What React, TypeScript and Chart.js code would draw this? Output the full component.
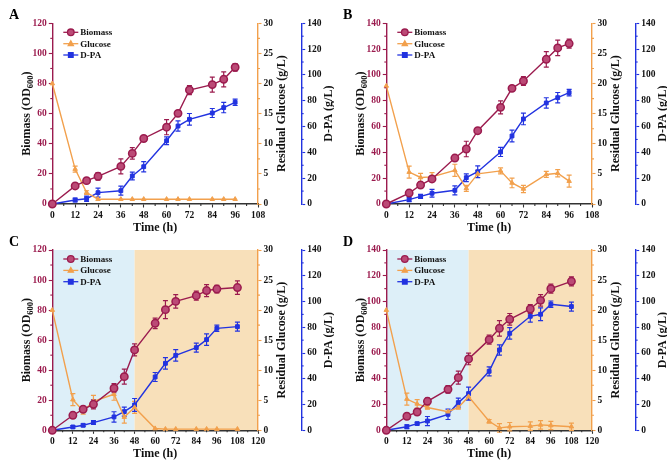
import React, { useEffect, useRef } from 'react';
import { Chart, registerables } from 'chart.js';

Chart.register(...registerables);

const FONT = "'Liberation Serif', 'Times New Roman', serif";
const MAROON = '#9b1b4e';
const MAROON_FILL = '#bb4a76';
const ORANGE = '#f2a04c';
const BLUE = '#2233e0';
const SHADE_1 = '#ddeff8';
const SHADE_2 = '#f8e0ba';

// ---- data ----
const timeAB = [0, 12, 18, 24, 36, 42, 48, 60, 66, 72, 84, 90, 96];
const timeCD = [0, 12, 18, 24, 36, 42, 48, 60, 66, 72, 84, 90, 96, 108];
const phaseSwitch = 48;

const biomassA = [0, 12.0, 15.5, 18.4, 25.0, 33.6, 43.5, 51.0, 60.2, 75.7, 79.3, 82.8, 90.8];
const biomassErrA = [0, 1.0, 1.2, 2.5, 5.0, 3.8, 2.0, 5.0, 1.8, 3.0, 5.0, 5.0, 2.5];
const glucoseA = [20.0, 5.8, 1.9, 0.8, 0.8, 0.8, 0.8, 0.8, 0.8, 0.8, 0.8, 0.8, 0.8];
const glucoseErrA = [0, 0.5, 0.3, 0, 0, 0, 0, 0, 0, 0, 0, 0, 0];
const dpaA = [0, 3.1, 4.1, 8.8, 10.3, 21.7, 28.9, 49.0, 60.4, 65.6, 70.5, 74.7, 78.8];
const dpaErrA = [0, 1.5, 2, 3.5, 3.5, 3, 4, 3, 4, 4.5, 3.5, 4, 2.5];

const biomassB = [0, 8.5, 14.7, 19.4, 35.6, 42.6, 56.8, 74.9, 89.6, 95.3, 112.1, 120.9, 124.3];
const biomassErrB = [0, 2, 1, 2, 2, 6, 2, 5, 1.5, 3.5, 6, 6, 3.5];
const glucoseB = [19.6, 5.3, 4.4, 4.5, 5.6, 2.6, 5.0, 5.5, 3.5, 2.5, 4.9, 5.1, 3.8];
const glucoseErrB = [0, 1.0, 0.7, 0.7, 1.0, 0.5, 0.6, 0.5, 0.8, 0.6, 0.5, 0.6, 1.0];
const dpaB = [0, 3.4, 5.9, 8.3, 10.6, 20.4, 25.0, 40.3, 52.7, 65.9, 78.3, 82.4, 86.3];
const dpaErrB = [0, 1.5, 1.5, 3, 3.5, 3, 4.5, 3.5, 4.5, 4.5, 4, 4, 2.5];

const biomassC = [0, 10.0, 14.0, 17.3, 28.0, 35.7, 53.5, 71.2, 80.3, 85.8, 89.6, 93.0, 94.0, 95.0];
const biomassErrC = [0, 2, 1, 3, 3, 5, 4, 3.5, 6, 4.5, 3, 4, 2.5, 4.5];
const glucoseC = [20.0, 5.1, 3.2, 4.8, 6.0, 2.2, 3.8, 0.3, 0.2, 0.2, 0.2, 0.2, 0.2, 0.2];
const glucoseErrC = [0, 1, 0.5, 1, 1, 1, 1, 0, 0, 0, 0, 0, 0, 0];
const dpaC = [0, 2.6, 3.9, 6.0, 10.4, 14.5, 19.7, 41.4, 52.0, 58.2, 64.2, 70.4, 79.2, 80.5];
const dpaErrC = [0, 1, 1, 1.5, 4, 3.5, 5, 3.5, 4.5, 4.5, 3.5, 4.5, 2.5, 3.5];

const biomassD = [0, 10.9, 14.2, 22.5, 31.8, 40.9, 55.4, 70.4, 79.2, 86.2, 94.2, 100.9, 110.0, 115.7];
const biomassErrD = [0, 2, 2, 2.5, 3, 5, 4.5, 3.5, 6, 4.5, 3.5, 4.5, 3.5, 3.5];
const glucoseD = [20.0, 5.2, 4.4, 3.8, 3.1, 3.8, 5.6, 1.5, 0.4, 0.6, 0.7, 0.9, 0.8, 0.6];
const glucoseErrD = [0, 1, 0.7, 0.3, 0, 0.3, 0.5, 0.3, 0.7, 0.7, 0.7, 0.7, 0.7, 0.6];
const dpaD = [0, 2.8, 5.2, 7.2, 12.4, 21.5, 28.5, 45.8, 62.4, 75.3, 88.5, 90.1, 97.9, 96.1];
const dpaErrD = [0, 1.5, 1, 3.5, 4, 3.5, 5, 3.5, 4, 4.5, 4.5, 5, 2.5, 3.5];

const seriesNames = ['Biomass', 'Glucose', 'D-PA'];
const xTitle = 'Time (h)';
const glucoseTitle = 'Residual Glucose (g/L)';
const dpaTitle = 'D-PA (g/L)';

type PanelDef = {
  letter: string; left: number; top: number; width: number; height: number;
  padTop: number; xAxisH: number; time: number[]; xMax: number; bioMax: number;
  bio: number[]; bioErr: number[]; glu: number[]; gluErr: number[]; dpa: number[]; dpaErr: number[];
  shaded: boolean;
};

const panels: PanelDef[] = [
  { letter: 'A', left: 0, top: 0, width: 334, height: 236, padTop: 23.3, xAxisH: 32, time: timeAB, xMax: 108, bioMax: 120,
    bio: biomassA, bioErr: biomassErrA, glu: glucoseA, gluErr: glucoseErrA, dpa: dpaA, dpaErr: dpaErrA, shaded: false },
  { letter: 'B', left: 334, top: 0, width: 333, height: 236, padTop: 23.3, xAxisH: 32, time: timeAB, xMax: 108, bioMax: 140,
    bio: biomassB, bioErr: biomassErrB, glu: glucoseB, gluErr: glucoseErrB, dpa: dpaB, dpaErr: dpaErrB, shaded: false },
  { letter: 'C', left: 0, top: 231, width: 334, height: 231, padTop: 19, xAxisH: 31.7, time: timeCD, xMax: 120, bioMax: 120,
    bio: biomassC, bioErr: biomassErrC, glu: glucoseC, gluErr: glucoseErrC, dpa: dpaC, dpaErr: dpaErrC, shaded: true },
  { letter: 'D', left: 334, top: 231, width: 333, height: 231, padTop: 19, xAxisH: 31.7, time: timeCD, xMax: 120, bioMax: 140,
    bio: biomassD, bioErr: biomassErrD, glu: glucoseD, gluErr: glucoseErrD, dpa: dpaD, dpaErr: dpaErrD, shaded: true },
];

const LEFT_W = 52.3;
const CHART_RIGHT = 258;
const ORANGE_W = 43.7;

function drawMarker(ctx: CanvasRenderingContext2D, style: string, x: number, y: number, r: number, fill: string, stroke: string) {
  ctx.beginPath();
  if (style === 'circle') {
    ctx.arc(x, y, r, 0, Math.PI * 2);
  } else if (style === 'triangle') {
    ctx.moveTo(x, y - r * 1.1);
    ctx.lineTo(x + r, y + r * 0.7);
    ctx.lineTo(x - r, y + r * 0.7);
    ctx.closePath();
  } else {
    ctx.rect(x - r, y - r, r * 2, r * 2);
  }
  ctx.fillStyle = fill;
  ctx.fill();
  ctx.strokeStyle = stroke;
  ctx.stroke();
}

const decorPlugin = {
  id: 'decor',
  beforeDraw(chart: any, _a: any, opts: any) {
    if (!opts.shaded) return;
    const { ctx, chartArea: ca, scales } = chart;
    const split = scales.x.getPixelForValue(phaseSwitch);
    ctx.save();
    ctx.fillStyle = SHADE_1;
    ctx.fillRect(ca.left, ca.top, split - ca.left, ca.bottom - ca.top);
    ctx.fillStyle = SHADE_2;
    ctx.fillRect(split, ca.top, ca.right - split, ca.bottom - ca.top);
    ctx.restore();
  },
  beforeDatasetsDraw(chart: any) {
    const { ctx } = chart;
    ctx.save();
    chart.data.datasets.forEach((ds: any, i: number) => {
      const meta = chart.getDatasetMeta(i);
      const scale = chart.scales[ds.yAxisID];
      ctx.strokeStyle = ds.borderColor;
      ctx.lineWidth = 1.2;
      ds.data.forEach((pt: any, j: number) => {
        const e = ds.errors[j];
        if (!e) return;
        const x = meta.data[j].x;
        const y1 = scale.getPixelForValue(pt.y + e);
        const y2 = scale.getPixelForValue(pt.y - e);
        ctx.beginPath();
        ctx.moveTo(x, y1); ctx.lineTo(x, y2);
        ctx.moveTo(x - 2.5, y1); ctx.lineTo(x + 2.5, y1);
        ctx.moveTo(x - 2.5, y2); ctx.lineTo(x + 2.5, y2);
        ctx.stroke();
      });
    });
    ctx.restore();
  },
  afterDraw(chart: any, _a: any, opts: any) {
    const { ctx, chartArea: ca, scales } = chart;
    ctx.save();
    // minor ticks
    ctx.lineWidth = 1.1;
    const xs = scales.x;
    ctx.strokeStyle = '#333';
    for (let v = 6; v < xs.max; v += 12) {
      const px = xs.getPixelForValue(v);
      ctx.beginPath(); ctx.moveTo(px, ca.bottom); ctx.lineTo(px, ca.bottom + 2); ctx.stroke();
    }
    const yb = scales.yB;
    ctx.strokeStyle = MAROON;
    for (let v = 10; v < yb.max; v += 20) {
      const py = yb.getPixelForValue(v);
      ctx.beginPath(); ctx.moveTo(ca.left - 2, py); ctx.lineTo(ca.left, py); ctx.stroke();
    }
    const yg = scales.yG;
    ctx.strokeStyle = ORANGE;
    for (let v = 2.5; v < yg.max; v += 5) {
      const py = yg.getPixelForValue(v);
      ctx.beginPath(); ctx.moveTo(yg.left, py); ctx.lineTo(yg.left + 2, py); ctx.stroke();
    }
    const yd = scales.yD;
    ctx.strokeStyle = BLUE;
    for (let v = 10; v < yd.max; v += 20) {
      const py = yd.getPixelForValue(v);
      ctx.beginPath(); ctx.moveTo(yd.left, py); ctx.lineTo(yd.left + 2, py); ctx.stroke();
    }

    // axis titles
    ctx.fillStyle = '#111';
    const midY = (ca.top + ca.bottom) / 2;
    const big = `bold 12px ${FONT}`;
    const small = `bold 8.5px ${FONT}`;
    ctx.font = big;
    ctx.textAlign = 'center';
    ctx.textBaseline = 'middle';
    ctx.fillText(xTitle, (ca.left + ca.right) / 2, ca.bottom + 23.5);

    ctx.save();
    ctx.translate(ca.left - 25, midY);
    ctx.rotate(-Math.PI / 2);
    ctx.textAlign = 'left';
    ctx.textBaseline = 'middle';
    ctx.font = big;
    const p1 = 'Biomass (OD';
    const p3 = ')';
    const w1 = ctx.measureText(p1).width;
    const w3 = ctx.measureText(p3).width;
    ctx.font = small;
    const p2 = '600';
    const w2 = ctx.measureText(p2).width;
    let sx = -(w1 + w2 + w3) / 2;
    ctx.font = big;
    ctx.fillText(p1, sx, 0);
    sx += w1;
    ctx.font = small;
    ctx.fillText(p2, sx, 3);
    sx += w2;
    ctx.font = big;
    ctx.fillText(p3, sx, 0);
    ctx.restore();

    const rot = (text: string, x: number) => {
      ctx.save();
      ctx.translate(x, midY);
      ctx.rotate(-Math.PI / 2);
      ctx.font = big;
      ctx.textAlign = 'center';
      ctx.textBaseline = 'middle';
      ctx.fillText(text, 0, 0);
      ctx.restore();
    };
    rot(glucoseTitle, ca.right + 23.7);
    rot(dpaTitle, yd.left + 27);

    // legend
    const styles = ['circle', 'triangle', 'rect'];
    const radii = [3.3, 2.6, 2.3];
    const fills = [MAROON_FILL, ORANGE, BLUE];
    const strokes = [MAROON, ORANGE, BLUE];
    const rows = [9, 20.4, 31.7];
    ctx.font = `bold 9px ${FONT}`;
    ctx.textAlign = 'left';
    ctx.textBaseline = 'middle';
    seriesNames.forEach((name, i) => {
      const y = ca.top + rows[i];
      ctx.strokeStyle = strokes[i];
      ctx.lineWidth = 1.3;
      ctx.beginPath();
      ctx.moveTo(ca.left + 11, y); ctx.lineTo(ca.left + 26, y);
      ctx.stroke();
      drawMarker(ctx, styles[i], ca.left + 18.5, y, radii[i], fills[i], strokes[i]);
      ctx.fillStyle = '#111';
      ctx.fillText(name, ca.left + 28, y + 0.5);
    });

    ctx.font = `bold 14px ${FONT}`;
    ctx.textAlign = 'left';
    ctx.textBaseline = 'alphabetic';
    ctx.fillStyle = '#000';
    ctx.fillText(opts.letter, 9, ca.top - 4);
    ctx.restore();
  },
};

function makeConfig(p: PanelDef): any {
  const tickFont = { family: FONT, size: 9.5, weight: 'bold' as const };
  const pts = (arr: number[]) => p.time.map((t, i) => ({ x: t, y: arr[i] }));
  const blueW = p.width - CHART_RIGHT - ORANGE_W;
  return {
    type: 'line',
    data: {
      datasets: [
        { label: seriesNames[0], data: pts(p.bio), errors: p.bioErr, yAxisID: 'yB', borderColor: MAROON, backgroundColor: MAROON_FILL,
          borderWidth: 1.4, pointStyle: 'circle', pointRadius: 3.7, pointBorderWidth: 1.5, pointBorderColor: MAROON,
          pointBackgroundColor: MAROON_FILL, clip: false },
        { label: seriesNames[1], data: pts(p.glu), errors: p.gluErr, yAxisID: 'yG', borderColor: ORANGE, backgroundColor: ORANGE,
          borderWidth: 1.4, pointStyle: 'triangle', pointRadius: 2.6, pointBorderWidth: 1, pointBorderColor: ORANGE,
          pointBackgroundColor: ORANGE, clip: false },
        { label: seriesNames[2], data: pts(p.dpa), errors: p.dpaErr, yAxisID: 'yD', borderColor: BLUE, backgroundColor: BLUE,
          borderWidth: 1.4, pointStyle: 'rect', pointRadius: 2.7, pointBorderWidth: 1, pointBorderColor: BLUE,
          pointBackgroundColor: BLUE, clip: false },
      ],
    },
    options: {
      animation: false,
      responsive: true,
      maintainAspectRatio: false,
      layout: { padding: { top: p.padTop, left: 0, right: 0, bottom: 0 } },
      plugins: {
        legend: { display: false },
        tooltip: { enabled: false },
        decor: { letter: p.letter, shaded: p.shaded },
      },
      scales: {
        x: {
          type: 'linear', min: 0, max: p.xMax, position: 'bottom',
          ticks: { stepSize: 12, font: tickFont, color: '#111', autoSkip: false, maxRotation: 0, padding: 2 },
          grid: { drawOnChartArea: false, drawTicks: true, tickLength: 3.5, tickColor: '#333', tickWidth: 1.1 },
          border: { display: true, color: '#333', width: 1.4 },
          afterFit: (s: any) => { s.height = p.xAxisH; },
        },
        yB: {
          type: 'linear', min: 0, max: p.bioMax, position: 'left',
          ticks: { stepSize: 20, font: tickFont, color: MAROON, padding: 2 },
          grid: { drawOnChartArea: false, drawTicks: true, tickLength: 3.5, tickColor: MAROON, tickWidth: 1.1 },
          border: { display: true, color: MAROON, width: 1.4 },
          afterFit: (s: any) => { s.width = LEFT_W; },
        },
        yG: {
          type: 'linear', min: 0, max: 30, position: 'right', weight: 1,
          ticks: { stepSize: 5, font: tickFont, color: '#111', padding: 2 },
          grid: { drawOnChartArea: false, drawTicks: true, tickLength: 3.5, tickColor: ORANGE, tickWidth: 1.1 },
          border: { display: true, color: ORANGE, width: 1.4 },
          afterFit: (s: any) => { s.width = ORANGE_W; },
        },
        yD: {
          type: 'linear', min: 0, max: 140, position: 'right', weight: 2,
          ticks: { stepSize: 20, font: tickFont, color: '#111', padding: 2 },
          grid: { drawOnChartArea: false, drawTicks: true, tickLength: 3.5, tickColor: BLUE, tickWidth: 1.1 },
          border: { display: true, color: BLUE, width: 1.4 },
          afterFit: (s: any) => { s.width = blueW; },
        },
      },
    },
    plugins: [decorPlugin],
  };
}

function Panel({ p }: { p: PanelDef }) {
  const ref = useRef<HTMLCanvasElement | null>(null);
  useEffect(() => {
    if (!ref.current) return;
    const chart = new Chart(ref.current, makeConfig(p));
    return () => chart.destroy();
  }, [p]);
  return (
    <div style={{ position: 'absolute', left: p.left, top: p.top, width: p.width, height: p.height }}>
      <canvas ref={ref} />
    </div>
  );
}

export default function App() {
  return (
    <div style={{ position: 'fixed', left: 0, top: 0, width: 667, height: 462, background: '#fff', overflow: 'hidden' }}>
      {panels.map((p) => (
        <Panel key={p.letter} p={p} />
      ))}
    </div>
  );
}
